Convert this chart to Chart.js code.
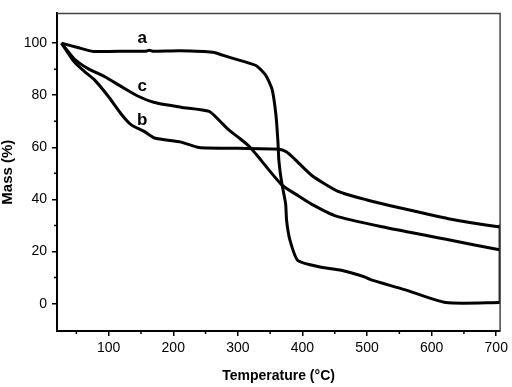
<!DOCTYPE html>
<html>
<head>
<meta charset="utf-8">
<script src="https://cdn.jsdelivr.net/npm/chart.js@4.4.1/dist/chart.umd.min.js"></script>
<style>
  html, body { margin: 0; padding: 0; background: #fff; }
  #wrap { width: 512px; height: 387px; }
</style>
</head>
<body>
<div id="wrap"><canvas id="tga"></canvas></div>
<script>
//tick values
const xTicks = [100, 200, 300, 400, 500, 600, 700];
const yTicks = [0, 20, 40, 60, 80, 100];
const xMinor = [50, 150, 250, 350, 450, 550, 650];
const yMinor = [10, 30, 50, 70, 90];

//curve a
const aTemp = [27, 52, 76, 132, 158, 163, 168, 210, 261, 286, 328, 343, 353, 359, 362, 363.5, 367.7, 374, 375.4, 380.5, 393, 429, 460, 496, 506.5, 558, 622, 706];
const aMass = [100, 98.3, 96.8, 96.9, 96.9, 97.3, 96.9, 97.1, 96.5, 94.6, 91.4, 87.7, 82.2, 72.3, 62.3, 54.9, 46.7, 38.2, 32, 24.5, 16.5, 14, 12.8, 10.3, 9.1, 5.4, 0.4, 0.4];

//curve b
const bTemp = [27, 47, 63, 78, 99, 119, 135, 155, 171, 212, 240, 300, 363.5, 375, 388, 414, 455, 500, 550, 626, 703, 706, 706];
const bMass = [100, 92.7, 89, 85.9, 79.7, 72.9, 68.6, 66.1, 63.6, 62, 59.9, 59.6, 59.3, 58.3, 55.5, 49.3, 43.1, 39.8, 36.8, 32.6, 29.5, 29.8, 0.4];

//curve c
const cTemp = [27, 47, 68, 94, 119, 145, 171, 212, 255.5, 276, 286, 302, 317, 328, 368, 394, 414, 450, 523, 626, 703, 706];
const cMass = [100, 93.9, 90.2, 87.1, 83.4, 79.7, 77.2, 75.4, 73.8, 69.1, 66.7, 63.6, 60.5, 57.4, 45.6, 41.3, 38.2, 33.8, 29.5, 24.5, 20.8, 20.8];

//curve labels, placed in data units
const curveNames = ['a', 'c', 'b'];
const nameTemp = [152, 152, 152];
const nameMass = [101.7, 83.5, 70.5];

const toPoints = (xs, ys) => xs.map((x, i) => ({ x: x, y: ys[i] }));

const fontFamily = '"Liberation Sans", Arial, sans-serif';

const lineSet = (label, xs, ys) => ({
    label: label,
    data: toPoints(xs, ys),
    borderColor: '#000',
    borderWidth: 3,
    pointRadius: 0,
    tension: 0.2,
    fill: false,
});

//minor ticks, frame and curve names
const extras = {
    id: 'extras',
    afterDraw(chart) {
        const ctx = chart.ctx;
        const x = chart.scales.x;
        const y = chart.scales.y;
        const area = chart.chartArea;
        ctx.save();
        ctx.strokeStyle = '#000';
        ctx.lineWidth = 1.5;
        ctx.beginPath();
        xMinor.forEach(v => {
            const px = x.getPixelForValue(v);
            ctx.moveTo(px, area.bottom);
            ctx.lineTo(px, area.bottom + 3);
        });
        yMinor.forEach(v => {
            const py = y.getPixelForValue(v);
            ctx.moveTo(area.left, py);
            ctx.lineTo(area.left - 3, py);
        });
        ctx.stroke();

        ctx.strokeStyle = '#444';
        ctx.lineWidth = 1.5;
        ctx.beginPath();
        ctx.moveTo(area.left, area.top);
        ctx.lineTo(area.right, area.top);
        ctx.lineTo(area.right, area.bottom);
        ctx.stroke();

        ctx.fillStyle = '#000';
        ctx.font = 'bold 17px ' + fontFamily;
        ctx.textAlign = 'center';
        ctx.textBaseline = 'middle';
        curveNames.forEach((n, i) => {
            ctx.fillText(n, x.getPixelForValue(nameTemp[i]), y.getPixelForValue(nameMass[i]));
        });
        ctx.restore();
    }
};

new Chart(document.getElementById('tga'), {
    type: 'line',
    data: {
        datasets: [
            lineSet('a', aTemp, aMass),
            lineSet('b', bTemp, bMass),
            lineSet('c', cTemp, cMass),
        ]
    },
    options: {
        responsive: true,
        maintainAspectRatio: false,
        animation: false,
        layout: { padding: { top: 3, right: 10, left: 0, bottom: 0 } },
        plugins: {
            legend: { display: false },
            tooltip: { enabled: false },
        },
        scales: {
            x: {
                type: 'linear',
                min: 20,
                max: 706,
                afterBuildTicks: scale => { scale.ticks = xTicks.map(v => ({ value: v })); },
                afterFit: scale => { scale.height = 56; },
                grid: { display: true, drawOnChartArea: false, drawTicks: true, tickLength: 5, color: '#000', lineWidth: 1.5 },
                border: { display: true, color: '#000', width: 2 },
                ticks: { color: '#000', padding: 4, maxRotation: 0, autoSkip: false, font: { family: fontFamily, size: 14 } },
                title: {
                    display: true,
                    text: 'Temperature (°C)',
                    color: '#000',
                    padding: { top: 2, bottom: 2 },
                    font: { family: fontFamily, size: 14, weight: 'bold', lineHeight: 1.2 },
                },
            },
            y: {
                type: 'linear',
                min: -10.5,
                max: 111.4,
                afterBuildTicks: scale => { scale.ticks = yTicks.map(v => ({ value: v })); },
                afterFit: scale => { scale.width = 57; },
                grid: { display: true, drawOnChartArea: false, drawTicks: true, tickLength: 5, color: '#000', lineWidth: 1.5 },
                border: { display: true, color: '#000', width: 2 },
                ticks: { color: '#000', padding: 5, font: { family: fontFamily, size: 14 } },
                title: {
                    display: true,
                    text: 'Mass (%)',
                    color: '#000',
                    padding: { top: 0, bottom: 0 },
                    font: { family: fontFamily, size: 15, weight: 'bold', lineHeight: 1 },
                },
            },
        },
    },
    plugins: [extras],
});
</script>
</body>
</html>
